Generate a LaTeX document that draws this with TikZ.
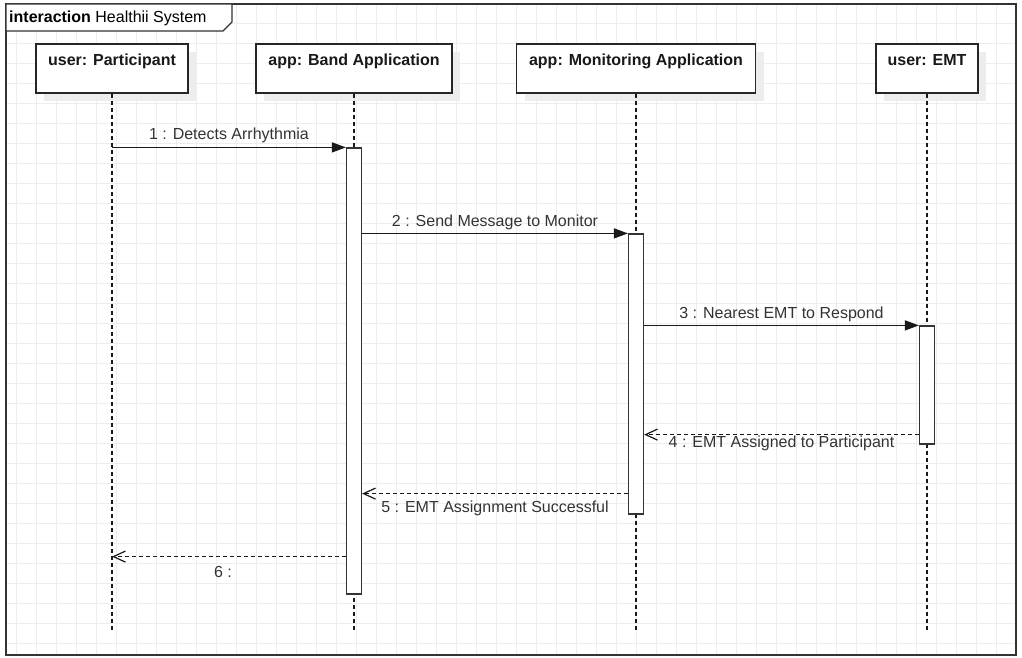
\documentclass[tikz,border=0pt]{standalone}
\usepackage{fontspec}
\setmainfont{Liberation Sans}
\usetikzlibrary{arrows.meta, positioning, shadows}

\begin{document}
\begin{tikzpicture}[
        x=1pt, y=-1pt,
        font=\fontsize{16}{19}\selectfont,
        gridline/.style={
            draw=black!7,
            line width=0.8pt
        },
        frame/.style={
            draw=black!80,
            line width=1.3pt
        },
        header/.style={
            rectangle,
            minimum width=#1,
            text height=22pt,
            text depth=27pt,
            inner sep=0pt,
            draw=black!85,
            line width=1.3pt,
            fill=white,
            text=black!90,
            font=\fontsize{16}{19}\selectfont\bfseries,
            general shadow={fill=black!7, shadow xshift=8pt, shadow yshift=-8pt}
        },
        lifeline/.style={
            draw=black!90,
            line width=1.2pt,
            dash pattern=on 4pt off 3pt
        },
        act/.style={
            rectangle,
            minimum width=15pt,
            inner sep=0pt,
            draw=black!80,
            line width=1.2pt,
            fill=white
        },
        call/.style={
            draw=black!90,
            line width=1.3pt,
            -{Triangle[length=14pt, width=10pt]}
        },
        reply/.style={
            draw=black!90,
            line width=1.2pt,
            dash pattern=on 4pt off 3pt,
            -{Straight Barb[length=12pt, width=11pt]}
        },
        msg/.style={
            text=black!80,
            inner sep=0pt
        }
    ]
        \useasboundingbox (0,0) rectangle (1022,658);
        \fill[white] (0,0) rectangle (1022,658);

        % grid
        \begin{scope}
            \clip (6,4) rectangle (1016,655);
            \foreach \gx in {16,36,...,1016}
                \draw[gridline] (\gx,4) -- (\gx,655);
            \foreach \gy in {23,43,...,655}
                \draw[gridline] (6,\gy) -- (1016,\gy);
        \end{scope}

        % frame
        \draw[frame] (6,4) rectangle (1016,655);
        \draw[frame, fill=white] (6,4) -- (232,4) -- (232,22) -- (223,31) -- (6,31) -- cycle;
        \node (frameTitle) [anchor=west, inner sep=0pt] at (9,18.5) {\textbf{interaction} Healthii System};

        % lifelines
        \node (partHead) [header=152pt] at (112,68.5) {user: Participant};
        \node (bandHead) [header=196pt] at (354,68.5) {app: Band Application};
        \node (monHead) [header=239pt] at (636,68.5) {app: Monitoring Application};
        \node (emtHead) [header=102pt] at (927,68.5) {user: EMT};

        \coordinate (partEnd) at (112,630);
        \coordinate (bandEnd) at (354,630);
        \coordinate (monEnd) at (636,630);
        \coordinate (emtEnd) at (927,630);

        \draw [lifeline] (partHead) -- (partEnd);
        \draw [lifeline] (bandHead) -- (bandEnd);
        \draw [lifeline] (monHead) -- (monEnd);
        \draw [lifeline] (emtHead) -- (emtEnd);

        % activations
        \node (bandAct) [act, minimum height=446pt] at (354,371) {};
        \node (monAct) [act, minimum height=280pt] at (636,374) {};
        \node (emtAct) [act, minimum height=118pt] at (927,385) {};

        % messages
        \draw [call] (partHead |- bandAct.north) -- node[msg, yshift=12pt] {1 : Detects Arrhythmia} (bandAct.north west);
        \draw [call] (bandAct.east |- monAct.north) -- node[msg, yshift=11pt] {2 : Send Message to Monitor} (monAct.north west);
        \draw [call] (monAct.east |- emtAct.north) -- node[msg, yshift=11pt] {3 : Nearest EMT to Respond} (emtAct.north west);

        \coordinate (emtBack) at ([yshift=10pt]emtAct.south west);
        \coordinate (monBack) at ([yshift=21pt]monAct.south west);
        \coordinate (bandBack) at ([yshift=38pt]bandAct.south west);

        \draw [reply] (emtBack) -- node[msg, yshift=-9pt] {4 : EMT Assigned to Participant} (monAct.east |- emtBack);
        \draw [reply] (monBack) -- node[msg, yshift=-15pt] {5 : EMT Assignment Successful} (bandAct.east |- monBack);
        \draw [reply] (bandBack) -- node[msg, yshift=-15pt, xshift=-6pt] {6 :} (partHead |- bandBack);

    \end{tikzpicture}
\end{document}
